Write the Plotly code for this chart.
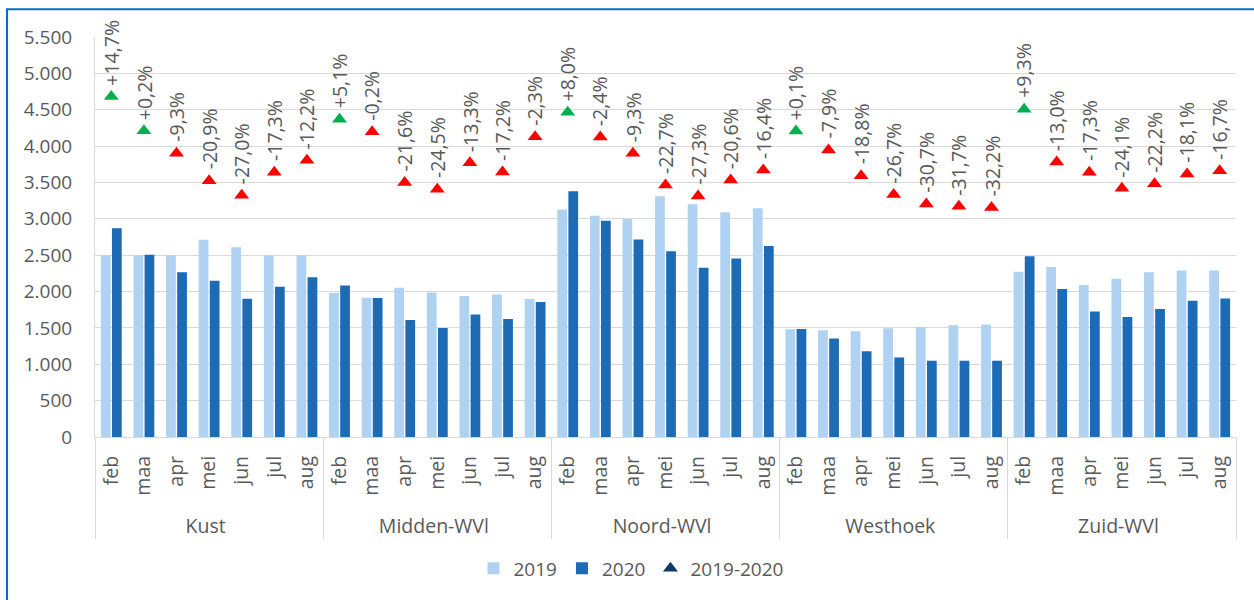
import plotly.graph_objects as go

regions = ["Kust", "Midden-WVl", "Noord-WVl", "Westhoek", "Zuid-WVl"]
months = ["feb", "maa", "apr", "mei", "jun", "jul", "aug"]

v2019 = [2500, 2500, 2500, 2713, 2609, 2494, 2500,
         1979, 1915, 2052, 1988, 1938, 1961, 1897,
         3128, 3041, 2996, 3311, 3201, 3092, 3146,
         1482, 1468, 1454, 1495, 1514, 1536, 1546,
         2271, 2339, 2089, 2175, 2267, 2289, 2289]
v2020 = [2869, 2507, 2267, 2148, 1901, 2066, 2197,
         2084, 1912, 1610, 1500, 1683, 1624, 1856,
         3379, 2973, 2716, 2554, 2326, 2453, 2627,
         1484, 1354, 1178, 1094, 1049, 1049, 1049,
         2485, 2034, 1724, 1651, 1761, 1874, 1906]
pct = [14.7, 0.2, -9.3, -20.9, -27.0, -17.3, -12.2,
       5.1, -0.2, -21.6, -24.5, -13.3, -17.2, -2.3,
       8.0, -2.4, -9.3, -22.7, -27.3, -20.6, -16.4,
       0.1, -7.9, -18.8, -26.7, -30.7, -31.7, -32.2,
       9.3, -13.0, -17.3, -24.1, -22.2, -18.1, -16.7]

# trailing no-break spaces push the rotated month labels away from the axis line
PAD = "\u00a0\u00a0"
xr = [r for r in regions for _ in months]
xm = [m + PAD for _ in regions for m in months]

FONT = "Open Sans"
TXT = "#595959"
C19 = "#AFD2F2"
C20 = "#1D6AB5"

fig = go.Figure()
fig.add_bar(x=[xr, xm], y=v2019, name="2019", marker_color=C19, marker_line_width=0)
fig.add_bar(x=[xr, xm], y=v2020, name="2020", marker_color=C20, marker_line_width=0)
fig.add_scatter(x=[xr, xm], y=pct, yaxis="y2", mode="markers", showlegend=False,
                marker=dict(symbol="triangle-up", size=13,
                            color=["#00B050" if p > 0 else "#FF0000" for p in pct]))
fig.add_scatter(x=[[xr[0]], [xm[0]]], y=[None], yaxis="y2", mode="markers",
                name="2019-2020",
                marker=dict(symbol="triangle-up", size=13, color="#0E3A66"))

for i, p in enumerate(pct):
    fig.add_annotation(x=i, y=p, xref="x", yref="y2",
                       text=(f"{p:+.1f}%").replace(".", ","),
                       textangle=-90, showarrow=False, yanchor="bottom", yshift=9,
                       font=dict(family=FONT, size=19.5, color=TXT))

L, T, W, H = 95, 37, 1254, 600
R = W - 1236
B = H - 439
pw = W - L - R
ph = H - T - B
fig.add_shape(type="rect", xref="paper", yref="paper",
              x0=(7 - L) / pw, x1=(1262 - L) / pw,
              y0=(439 - 620) / ph, y1=(439 - 9) / ph,
              line=dict(color="#0070C0", width=2), fillcolor="rgba(0,0,0,0)")

fig.update_layout(
    width=W, height=H,
    margin=dict(l=L, r=R, t=T, b=B),
    paper_bgcolor="white", plot_bgcolor="white",
    barmode="group", bargap=0.32, bargroupgap=0.12,
    separators=",.",
    font=dict(family=FONT, size=19, color=TXT),
    legend=dict(orientation="h", x=(631 - L) / pw, xanchor="center",
                y=(439 - 571) / ph, yanchor="middle",
                font=dict(family=FONT, size=19, color=TXT)),
    xaxis=dict(type="multicategory", range=[-0.5, len(xm) - 0.5], autorange=False,
               showline=True, linecolor="#D9D9D9", linewidth=1,
               ticks="", tickangle=-90, showdividers=True, dividercolor="#D9D9D9",
               dividerwidth=1,
               tickfont=dict(family=FONT, size=19.5, color=TXT)),
    yaxis=dict(range=[0, 5500], dtick=500, tickformat=",", showgrid=True,
               gridcolor="#D9D9D9", gridwidth=1, zeroline=False, showline=True,
               linecolor="#D9D9D9", ticks="", ticklabelstandoff=18,
               tickfont=dict(family=FONT, size=19, color=TXT)),
    yaxis2=dict(overlaying="y", range=[(0 - 4204) / 32.56, (5500 - 4204) / 32.56],
                visible=False),
)

fig.write_html("out.html", config={"displayModeBar": False},
               post_script="document.body.style.margin='0';")
